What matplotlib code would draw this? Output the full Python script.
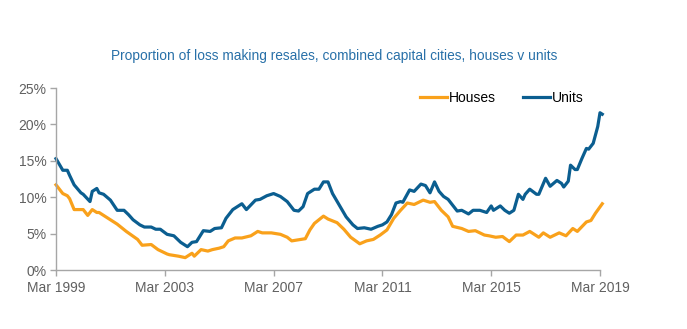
import matplotlib
matplotlib.use("Agg")
import matplotlib.pyplot as plt
from matplotlib.ticker import FuncFormatter

plt.rcParams['font.family'] = ['Liberation Sans', 'DejaVu Sans']

# Months elapsed since March 1999, with the share (%) of loss-making resales
units_months = [0, 3, 5, 6, 8, 11, 12, 15, 16, 18, 19, 21, 24, 27, 30, 32, 34, 37, 39, 42,
                44, 46, 49, 52, 55, 58, 60, 62, 65, 68, 70, 73, 75, 78, 80, 82, 84, 88, 90, 93,
                96, 99, 102, 105, 107, 109, 111, 114, 116, 118, 120, 122, 125, 128, 131, 133,
                136, 139, 142, 144, 146, 148, 150, 152, 153, 156, 158, 161, 163, 165, 167, 169,
                171, 173, 175, 177, 179, 182, 184, 187, 190, 192, 193, 196, 198, 200, 202, 204,
                206, 207, 209, 212, 213, 216, 218, 221, 223, 224, 226, 227, 229, 230, 232, 234,
                235, 237, 239, 240, 241]
units_pct = [15.3, 13.7, 13.7, 13.0, 11.7, 10.6, 10.4, 9.4, 10.8, 11.2, 10.6, 10.4, 9.6, 8.2,
             8.2, 7.6, 6.9, 6.2, 5.9, 5.9, 5.6, 5.6, 4.9, 4.7, 3.8, 3.2, 3.8, 3.9, 5.4, 5.3,
             5.7, 5.8, 7.1, 8.3, 8.7, 9.1, 8.3, 9.6, 9.7, 10.2, 10.5, 10.1, 9.4, 8.2, 8.1, 8.7,
             10.5, 11.1, 11.1, 12.1, 12.1, 10.5, 8.9, 7.3, 6.2, 5.7, 5.8, 5.6, 6.0, 6.2, 6.6,
             7.6, 9.2, 9.4, 9.3, 11.0, 10.8, 11.8, 11.6, 10.6, 12.1, 10.8, 10.1, 9.7, 8.9, 8.1,
             8.2, 7.7, 8.2, 8.2, 7.9, 8.8, 8.2, 8.8, 8.2, 7.8, 8.2, 10.4, 9.7, 10.4, 11.1, 10.4,
             10.4, 12.6, 11.5, 12.3, 11.9, 11.4, 12.2, 14.4, 13.8, 13.8, 15.3, 16.7, 16.6, 17.4,
             19.7, 21.6, 21.4]

houses_months = [0, 3, 5, 6, 8, 12, 14, 16, 18, 19, 23, 27, 31, 36, 38, 42, 45, 49, 50, 54,
                 57, 60, 61, 64, 67, 69, 72, 74, 76, 79, 82, 86, 89, 91, 95, 99, 102, 104, 108,
                 110, 112, 114, 118, 120, 124, 127, 130, 134, 137, 140, 143, 146, 149, 152, 155,
                 158, 162, 165, 167, 170, 173, 175, 179, 182, 185, 189, 191, 194, 197, 200, 203,
                 206, 209, 213, 215, 218, 222, 225, 228, 230, 234, 236, 238, 241]
houses_pct = [11.7, 10.5, 10.2, 9.8, 8.3, 8.3, 7.5, 8.3, 7.9, 7.9, 7.1, 6.3, 5.3, 4.2, 3.4,
              3.5, 2.8, 2.2, 2.1, 1.9, 1.7, 2.3, 1.9, 2.8, 2.6, 2.8, 3.0, 3.2, 4.0, 4.4, 4.4,
              4.7, 5.3, 5.1, 5.1, 4.9, 4.5, 4.0, 4.2, 4.3, 5.5, 6.4, 7.4, 7.0, 6.5, 5.6, 4.5,
              3.6, 4.0, 4.2, 4.8, 5.5, 7.1, 8.2, 9.2, 9.0, 9.6, 9.3, 9.4, 8.2, 7.3, 6.0, 5.7,
              5.3, 5.4, 4.8, 4.7, 4.5, 4.6, 3.9, 4.8, 4.8, 5.3, 4.5, 5.1, 4.5, 5.1, 4.7, 5.7,
              5.3, 6.6, 6.8, 7.8, 9.1]

tick_months = [0, 48, 96, 144, 192, 240]
tick_labels = ["Mar 1999", "Mar 2003", "Mar 2007", "Mar 2011", "Mar 2015", "Mar 2019"]

houses_color = "#F9A11B"
units_color = "#0B5E90"
axis_color = "#A6A6A6"
label_color = "#606060"

fig = plt.figure(figsize=(6.87, 3.29), dpi=100)
ax = fig.add_axes([56 / 687, 1 - 270 / 329, (600 - 56) / 687, (270 - 88) / 329])

ax.plot(houses_months, houses_pct, color=houses_color, lw=2.3, label="Houses",
        clip_on=False, solid_joinstyle="round")
ax.plot(units_months, units_pct, color=units_color, lw=2.3, label="Units",
        clip_on=False, solid_joinstyle="round")

ax.set_xlim(0, 240)
ax.set_ylim(0, 25)
ax.set_xticks(tick_months)
ax.set_xticklabels(tick_labels)
ax.set_yticks([0, 5, 10, 15, 20, 25])
ax.yaxis.set_major_formatter(FuncFormatter(lambda v, p: f"{v:.0f}%"))

for side in ("top", "right"):
    ax.spines[side].set_visible(False)
for side in ("left", "bottom"):
    ax.spines[side].set_color(axis_color)
    ax.spines[side].set_linewidth(1.0)

ax.tick_params(axis="both", colors=axis_color, labelcolor=label_color,
               labelsize=10, length=4, width=1.0, direction="out")
ax.tick_params(axis="x", pad=4)
ax.tick_params(axis="y", pad=3)

fig.text(334 / 687, 1 - 56 / 329,
         "Proportion of loss making resales, combined capital cities, houses v units",
         ha="center", va="center", color="#2870A8", fontsize=9.9)

fig.legend(loc="center left", bbox_to_anchor=(420 / 687, 1 - 98 / 329), ncol=2,
           frameon=False, fontsize=10, handlelength=1.95, handletextpad=0.15,
           columnspacing=1.9, borderpad=0, borderaxespad=0)

fig.savefig("out.png", dpi=100)
